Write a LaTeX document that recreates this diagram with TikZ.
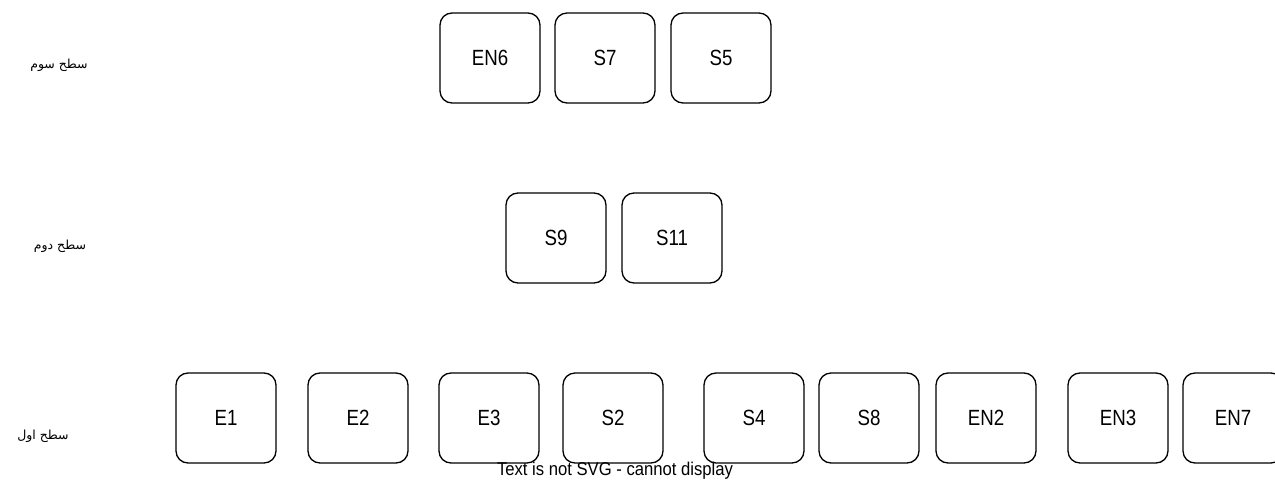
\documentclass[tikz,border=0pt]{standalone}
\usepackage{fontspec}
\setmainfont{Liberation Sans}
\newfontfamily\narrowfont[FakeStretch=0.85]{Liberation Sans}
\newfontfamily\footfont[FakeStretch=0.9]{Liberation Sans}
\newfontfamily\arabicfont[Script=Arabic]{DejaVu Sans}
\TeXXeTstate=1
\begin{document}
\begin{tikzpicture}[x=1pt,y=-1pt,
  box/.style={draw, line width=1.3pt, rounded corners=12pt, minimum width=100pt, minimum height=90pt, inner sep=0pt, font=\narrowfont\fontsize{22}{26}\selectfont},
  lvl/.style={font=\arabicfont\fontsize{12.5}{15}\selectfont, inner sep=0pt}]
\useasboundingbox (0,0) rectangle (1275,481);
% level labels
\node[lvl] (l3) at (59,65) {\beginR سطح سوم\endR};
\node[lvl] (l2) at (60,246) {\beginR سطح دوم\endR};
\node[lvl] (l1) at (43,436) {\beginR سطح اول\endR};
% top row
\node[box] (en6) at (490,58) {EN6};
\node[box] (s7) at (605,58) {S7};
\node[box] (s5) at (721,58) {S5};
% middle row
\node[box] (s9) at (556,238) {S9};
\node[box] (s11) at (672,238) {S11};
% bottom row
\node[box] (e1) at (226,418) {E1};
\node[box] (e2) at (358,418) {E2};
\node[box] (e3) at (489,418) {E3};
\node[box] (s2) at (613,418) {S2};
\node[box] (s4) at (754,418) {S4};
\node[box] (s8) at (869,418) {S8};
\node[box] (en2) at (986,418) {EN2};
\node[box] (en3) at (1118,418) {EN3};
\node[box] (en7) at (1233,418) {EN7};
% footer
\node[inner sep=0pt, font=\footfont\fontsize{18.5}{20}\selectfont] (msg) at (615,471) {Text is not SVG - cannot display};
\end{tikzpicture}
\end{document}
